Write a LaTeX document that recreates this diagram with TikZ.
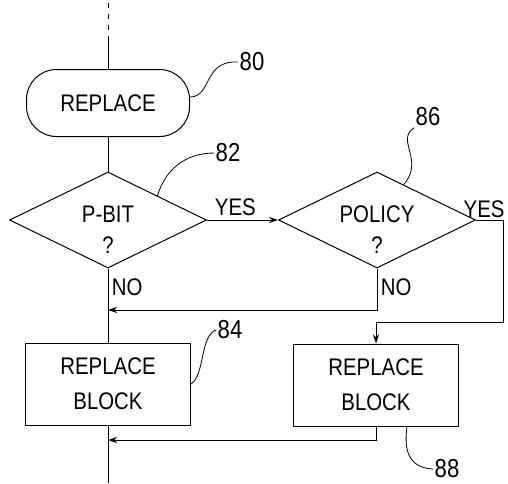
\documentclass[tikz,border=0pt]{standalone}
\usepackage{fontspec}
\setmainfont{Liberation Sans}[FakeStretch=0.85]
\usetikzlibrary{shapes.geometric,arrows.meta}
\begin{document}
\begin{tikzpicture}[x=1pt,y=-1pt,line width=1pt,
	every node/.style={font=\fontsize{24}{35}\selectfont},
	term/.style={draw,rounded corners=30pt,minimum width=163pt,minimum height=67pt},
	decide/.style={draw,diamond,minimum width=197pt,minimum height=96pt,inner sep=0pt},
	blockbox/.style={draw,minimum width=165pt,minimum height=82pt,align=center},
	refnum/.style={font=\fontsize{26}{26}\selectfont,inner sep=1pt},
	flow/.style={-{Stealth[length=9pt,width=6pt]}},
	lead/.style={line width=0.8pt}]
	\useasboundingbox (0,0) rectangle (508,483);
	\path 
	(108,3) coordinate (top)
	(108,40) coordinate (dashend)
	(108,310) coordinate (joinA)
	(108,440) coordinate (joinB)
	(108,483) coordinate (bottom)
	(503,220) coordinate (yesR)
	(376,322) coordinate (turnB);
	\node[term] (replace) at (108,103) {REPLACE};
	\node[decide] (pbit) at (108,220) {};
	\node[decide] (policy) at (377,220) {};
	\node[blockbox] (blkA) at (108,384) {REPLACE\\BLOCK};
	\node[blockbox] (blkB) at (376,385) {REPLACE\\BLOCK};
	\foreach \d/\t in {pbit/P-BIT,policy/POLICY}{
		\node (\d txt) at ([yshift=6pt]\d.center) {\t};
		\node (\d q) at ([yshift=-25pt]\d.center) {?};
	}
	%	reference numerals
	\node[refnum] (n80) at (252,62) {80};
	\node[refnum] (n82) at (228,153) {82};
	\node[refnum] (n86) at (428,117) {86};
	\node[refnum] (n84) at (230,330) {84};
	\node[refnum] (n88) at (447,469) {88};
	\draw[dash pattern=on 5pt off 6pt] (top)--(dashend);
	\draw (dashend)--(replace.north);
	\draw (replace.south)--(pbit.north);
	\draw[flow] (pbit.east)-- node[above,pos=0.4]{YES} (policy.west);
	\draw (pbit.south)-- node[right,pos=0.25]{NO} (blkA.north);
	\draw[flow] (policy.south) |- node[right,pos=0.22]{NO} (joinA);
	\draw (policy.east)-- node[above,pos=0.3,inner sep=2pt]{YES} (yesR);
	\draw[flow] (yesR) |- (turnB)--(blkB.north);
	\draw[flow] (blkB.south) |- (joinB);
	\draw (blkA.south)--(bottom);
	%	leaders
	\draw[lead] ([yshift=6pt]replace.east) .. controls (212,97) and (203,60) .. (n80.west);
	\draw[lead] (pbit.north east) .. controls (165,170) and (185,153) .. (n82.west);
	\draw[lead] (policy.53) .. controls (425,160) and (395,140) .. (n86.south west);
	\draw[lead] (blkA.east) .. controls (205,375) and (200,335) .. (n84.west);
	\draw[lead] ([xshift=31pt]blkB.south) .. controls (403,455) and (412,468) .. (n88.west);
\end{tikzpicture}
\end{document}
